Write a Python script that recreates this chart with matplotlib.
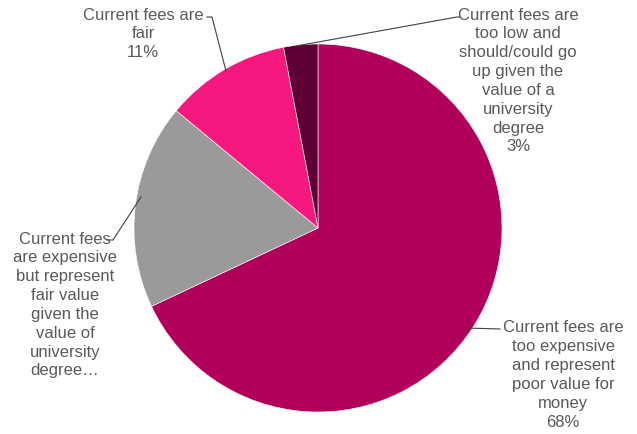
import matplotlib.pyplot as plt

labels = [
    "Current fees are\ntoo expensive\nand represent\npoor value for\nmoney\n68%",
    "Current fees\nare expensive\nbut represent\nfair value\ngiven the\nvalue of\nuniversity\ndegree\u2026",
    "Current fees are\nfair\n11%",
    "Current fees are\ntoo low and\nshould/could go\nup given the\nvalue of a\nuniversity\ndegree\n3%",
]
values = [68, 18, 11, 3]
colors = ['#B0005A', '#9A9A9A', '#F5187F', '#5E0033']

W, H = 637, 435
cx, cy, r = 318, 229, 184


def px(x, y):
    # pixel position in picture -> data coords of the pie axes
    return (x - cx) / r, (cy - y) / r


plt.rcParams['font.family'] = ['Liberation Sans', 'DejaVu Sans']
fig = plt.figure(figsize=(W / 100, H / 100), dpi=100)
ax = fig.add_axes([(cx - r) / W, (H - cy - r) / H, 2 * r / W, 2 * r / H])
ax.pie(values, colors=colors, startangle=90, counterclock=False,
       wedgeprops=dict(edgecolor='white', linewidth=0.4))
ax.set_xlim(-1, 1)
ax.set_ylim(-1, 1)
ax.set_aspect('equal')
ax.axis('off')

# label text centres and leader lines (pixel positions)
text_pos = [(563, 375), (65, 305), (143, 34), (518, 81)]
leaders = [
    [(466, 329), (500, 330)],
    [(141, 198), (113, 241), (107, 241)],
    [(226, 72), (212, 18), (207, 18)],
    [(296, 47), (457, 18), (460, 18)],
]

for lab, (tx, ty), pts in zip(labels, text_pos, leaders):
    x, y = px(tx, ty)
    ax.text(x, y, lab, ha='center', va='center', fontsize=12,
            color='#595959', linespacing=1.32, clip_on=False)
    xs = [px(a, b)[0] for a, b in pts]
    ys = [px(a, b)[1] for a, b in pts]
    ax.plot(xs, ys, color='#404040', lw=0.8, clip_on=False)

fig.savefig('out.png', dpi=100)
